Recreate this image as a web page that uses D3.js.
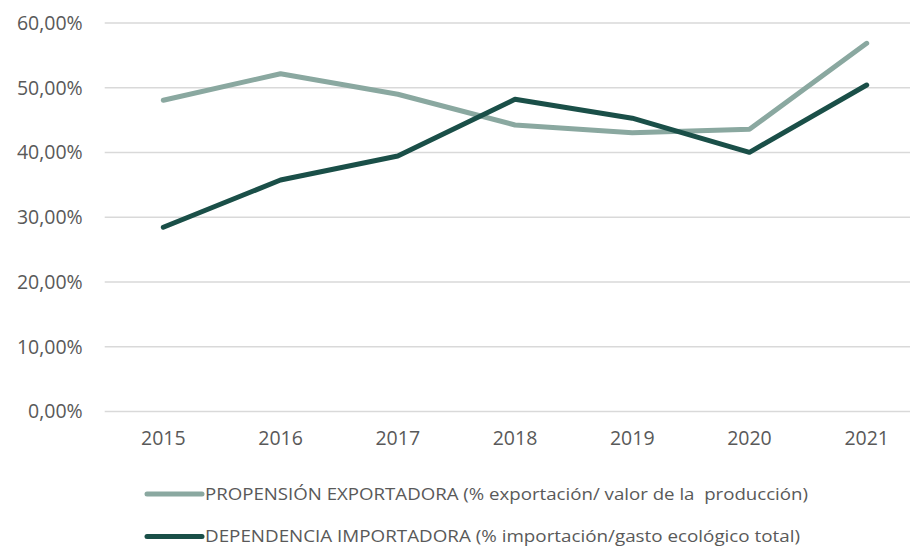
<!DOCTYPE html>
<html>
<head>
<meta charset="utf-8">
<script src="https://cdn.jsdelivr.net/npm/d3@7"></script>
<style>
  body { margin: 0; background: #fff; }
  text { font-family: "Open Sans", sans-serif; fill: #595959; }
</style>
</head>
<body>
<script>
//chart data
var years = ["2015", "2016", "2017", "2018", "2019", "2020", "2021"];
var propension = [0.4806, 0.5217, 0.4899, 0.4425, 0.4306, 0.4358, 0.5686];
var dependencia = [0.2845, 0.3575, 0.3946, 0.4822, 0.4530, 0.4003, 0.5042];
var yTicks = [0, 0.1, 0.2, 0.3, 0.4, 0.5, 0.6];
var seriesNames = [
    "PROPENSIÓN EXPORTADORA (% exportación/ valor de la  producción)",
    "DEPENDENCIA IMPORTADORA (% importación/gasto ecológico total)"
];
var legendWidths = [603, 595];
var colors = ["#8aa8a0", "#1a4f48"];

window.onload = drawChart();

function drawChart(){
    var width = 910, height = 546;
    var svg = d3.select("body").append("svg")
        .attr("width", width)
        .attr("height", height);

    //scales
    var x = d3.scaleBand()
        .domain(years)
        .range([104.7, 925.3]);
    var y = d3.scaleLinear()
        .domain([0, 0.6])
        .range([411.5, 23]);

    var fmt = function(d){ return d3.format(".2f")(d * 100).replace(".", ",") + "%"; };

    //gridlines
    svg.selectAll(".grid")
        .data(yTicks)
        .enter()
        .append("line")
        .attr("x1", 104.7)
        .attr("x2", 925.3)
        .attr("y1", function(d){ return y(d); })
        .attr("y2", function(d){ return y(d); })
        .style("stroke", "#d9d9d9")
        .style("stroke-width", "1.3px");

    //y axis labels
    var yAxis = d3.axisLeft(y).tickValues(yTicks).tickFormat(fmt).tickSize(0).tickPadding(22);
    var gy = svg.append("g").attr("transform", "translate(104.7,0)").call(yAxis);
    gy.select(".domain").remove();
    gy.selectAll("text").style("font-size", "19.5px").attr("font-family", null).style("fill", "#595959");

    //x axis labels
    var xAxis = d3.axisBottom(x).tickSize(0).tickPadding(20);
    var gx = svg.append("g").attr("transform", "translate(0,411.5)").call(xAxis);
    gx.select(".domain").remove();
    gx.selectAll("text").style("font-size", "19.5px").attr("font-family", null).style("fill", "#595959");

    //lines
    var line = d3.line()
        .x(function(d, i){ return x(years[i]) + x.bandwidth() / 2; })
        .y(function(d){ return y(d); });

    [propension, dependencia].forEach(function(s, i){
        svg.append("path")
            .datum(s)
            .attr("d", line)
            .style("fill", "none")
            .style("stroke", colors[i])
            .style("stroke-width", "5px")
            .style("stroke-linecap", "round")
            .style("stroke-linejoin", "round");
    });

    //legend
    var legend = svg.selectAll(".legend")
        .data(seriesNames)
        .enter()
        .append("g")
        .attr("transform", function(d, i){ return "translate(145," + (494 + i * 42.5) + ")"; });
    legend.append("line")
        .attr("x1", 2).attr("x2", 57)
        .style("stroke", function(d, i){ return colors[i]; })
        .style("stroke-width", "5px")
        .style("stroke-linecap", "round");
    legend.append("text")
        .attr("x", 60)
        .attr("dy", "0.35em")
        .attr("xml:space", "preserve")
        .style("white-space", "pre")
        .attr("textLength", function(d, i){ return legendWidths[i]; })
        .attr("lengthAdjust", "spacingAndGlyphs")
        .style("font-size", "16.5px")
        .text(function(d){ return d; });
};
</script>
</body>
</html>
